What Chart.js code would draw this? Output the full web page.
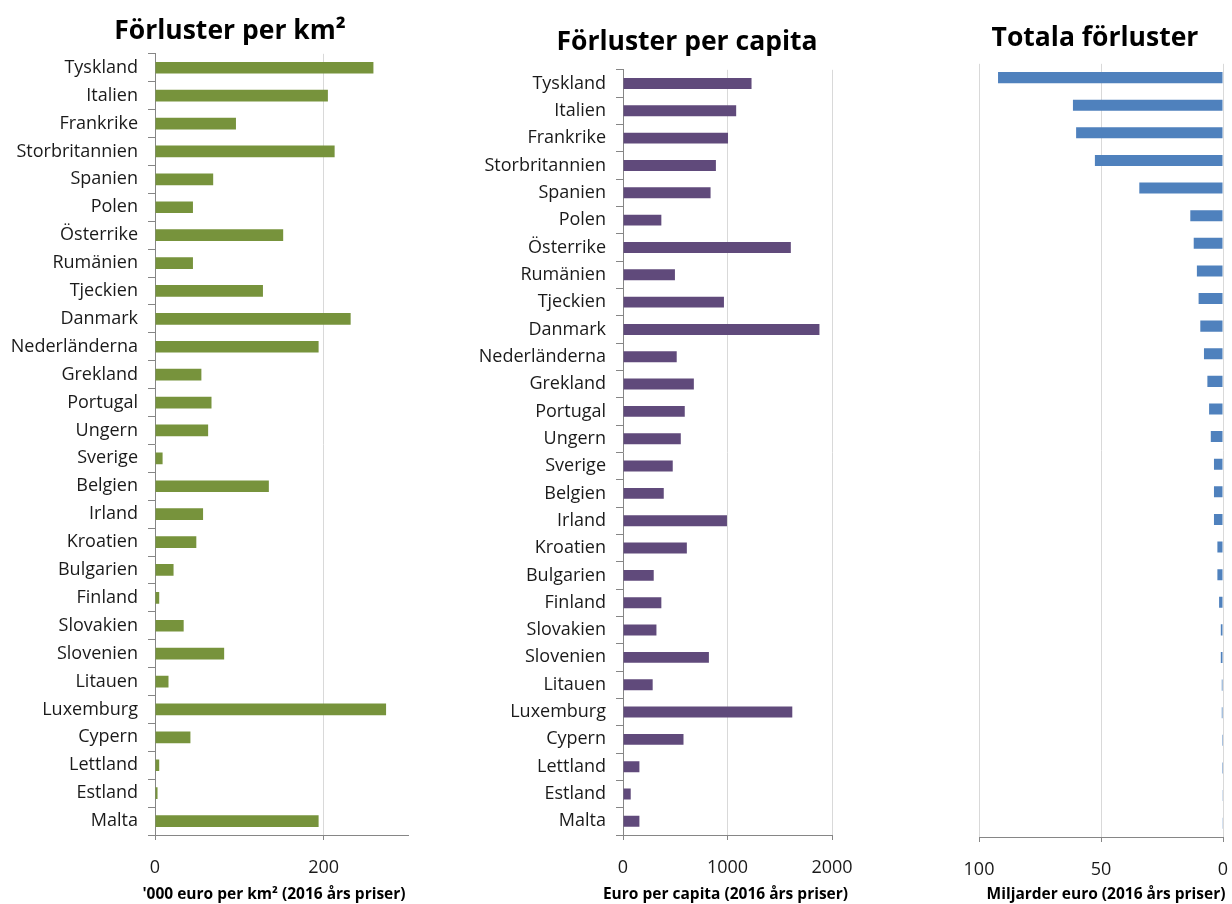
<!DOCTYPE html>
<html><head><meta charset="utf-8">
<script src="https://cdn.jsdelivr.net/npm/chart.js@4.4.1/dist/chart.umd.min.js"></script>
<style>
html,body{margin:0;padding:0;background:#fff;width:1232px;height:904px;overflow:hidden}
canvas{position:absolute;top:0}
</style></head><body>
<canvas id="c1" width="460" height="904" style="left:0px"></canvas>
<canvas id="c2" width="454" height="904" style="left:460px"></canvas>
<canvas id="c3" width="272" height="904" style="left:960px"></canvas>
<script>
const countries = ["Tyskland","Italien","Frankrike","Storbritannien","Spanien","Polen","Österrike","Rumänien","Tjeckien","Danmark","Nederländerna","Grekland","Portugal","Ungern","Sverige","Belgien","Irland","Kroatien","Bulgarien","Finland","Slovakien","Slovenien","Litauen","Luxemburg","Cypern","Lettland","Estland","Malta"];
const perKm2 = [259,205,96,213,69,45,152,45,128,232,194,55,67,63,9,135,57,49,22,5,34,82,16,274,42,5,3,194];
const perCapita = [1230,1083,1005,889,838,367,1606,497,966,1880,514,678,591,553,476,390,995,611,294,367,320,822,284,1620,579,157,74,157];
const totals = [92.2,61.5,60.2,52.5,34.3,13.4,12.0,10.7,10.0,9.3,7.8,6.4,5.7,5.0,3.7,3.7,3.7,2.3,2.3,1.6,0.9,0.9,0.5,0.5,0.4,0.4,0.3,0.3];
const ticksKm2 = [0, 200];
const ticksCapita = [0, 1000, 2000];
const ticksTotal = [0, 50, 100];

Chart.defaults.font.family = "'Open Sans', sans-serif";
Chart.defaults.animation = false;

const AXIS = '#868686', GRID = '#d9d9d9', TXT = '#1a1a1a';

// re-centres the title and the bottom axis caption at given x positions
const textCenter = {
  id: 'textCenter',
  afterLayout(chart, args, opts) {
    const t = chart.titleBlock;
    if (t && opts.titleCx != null) { t.left = opts.titleCx - 300; t.right = opts.titleCx + 300; }
    const s = chart.boxes.find(b => b !== t && b.options && b.options.text === opts.subText);
    if (s && opts.subCx != null) { s.left = opts.subCx - 300; s.right = opts.subCx + 300; }
  }
};

function makeChart(id, o) {
  new Chart(document.getElementById(id), {
    type: 'bar',
    data: { labels: countries, datasets: [{ data: o.data, backgroundColor: o.color, barPercentage: o.barPct, categoryPercentage: 1 }] },
    plugins: [textCenter],
    options: {
      indexAxis: 'y',
      responsive: false,
      layout: { padding: { left: o.padL, right: o.padR, top: 0, bottom: 0 } },
      plugins: {
        legend: { display: false },
        tooltip: { enabled: false },
        textCenter: { titleCx: o.titleCx, subCx: o.subCx, subText: o.xTitle },
        title: { display: true, text: o.title, color: '#000', font: { size: 26.5, weight: 'bold' }, padding: { top: o.titleTop, bottom: o.titleBottom } },
        subtitle: { display: true, text: o.xTitle, position: 'bottom', color: '#000', font: { size: 15.5, weight: 'bold' }, padding: { top: 0, bottom: 0 } }
      },
      scales: {
        x: {
          min: o.min, max: o.max, reverse: !!o.reverse,
          afterBuildTicks: s => { s.ticks = o.ticks.map(v => ({ value: v })); },
          afterFit: s => { s.height = o.xHeight; },
          grid: { color: c => (c.tick && c.tick.value === 0 && !o.reverse) ? 'rgba(0,0,0,0)' : GRID, tickColor: AXIS, tickLength: 5, lineWidth: 1 },
          border: { display: true, color: AXIS, width: 1 },
          ticks: { color: TXT, font: { size: 18 }, padding: 17, callback: v => String(v) }
        },
        y: {
          display: o.showY,
          afterFit: s => { s.width = o.yWidth; },
          grid: { drawOnChartArea: false, drawTicks: true, tickLength: 7, tickColor: AXIS },
          border: { display: true, color: AXIS, width: 1 },
          ticks: { color: TXT, font: { size: 18 }, padding: 10, autoSkip: false }
        }
      }
    }
  });
}

makeChart('c1', { data: perKm2, color: '#77933C', barPct: 0.42, title: 'Förluster per km²', titleTop: 16, titleBottom: 6, titleCx: 230, subCx: 274,
  min: 0, max: 300, ticks: ticksKm2, xTitle: "'000 euro per km² (2016 års priser)", xHeight: 50.4, yWidth: 155, showY: true, padL: 0, padR: 52 });
makeChart('c2', { data: perCapita, color: '#604A7B', barPct: 0.4, title: 'Förluster per capita', titleTop: 27, titleBottom: 11, titleCx: 227, subCx: 265.5,
  min: 0, max: 2000, ticks: ticksCapita, xTitle: 'Euro per capita (2016 års priser)', xHeight: 50.4, yWidth: 163, showY: true, padL: 0, padR: 82 });
makeChart('c3', { data: totals, color: '#4F81BD', barPct: 0.4, title: 'Totala förluster', titleTop: 23, titleBottom: 9, titleCx: 135, subCx: 146,
  min: 0, max: 100, reverse: true, ticks: ticksTotal, xTitle: 'Miljarder euro (2016 års priser)', xHeight: 48.4, yWidth: 0, showY: false, padL: 19, padR: 9 });
</script>
</body></html>
